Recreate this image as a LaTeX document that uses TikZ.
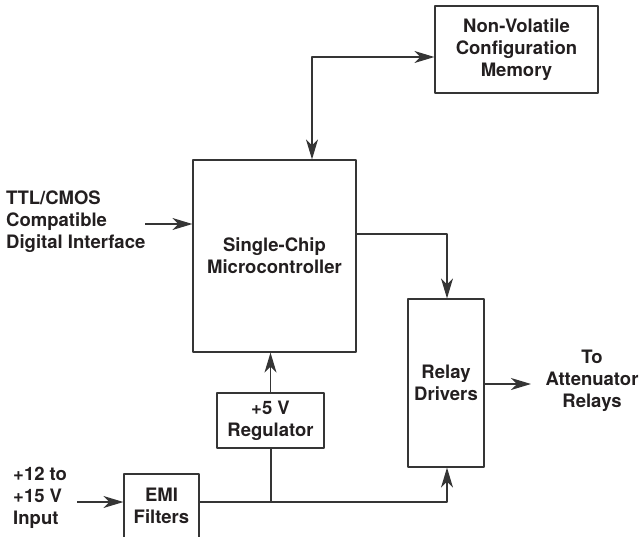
\documentclass[tikz,border=0pt]{standalone}
\usepackage{fontspec}
\setmainfont{TeX Gyre Heros}
\usetikzlibrary{arrows,arrows.meta,positioning,calc}
\definecolor{inkgray}{HTML}{353535}
\definecolor{txtblack}{HTML}{231F20}
\tikzset{
  blockbox/.style={draw=inkgray, line width=1.2pt, align=center, inner sep=0pt,
    font=\bfseries\fontsize{18.5}{22}\selectfont, text=txtblack},
  sidelabel/.style={inner sep=0pt, font=\bfseries\fontsize{18.5}{22}\selectfont, text=txtblack},
  wire/.style={draw=inkgray, line width=1.2pt}
}

\begin{document}
\begin{tikzpicture}[x=1pt, y=-1pt, line join=round, >={Stealth[length=20pt,width=12pt,inset=6pt]}]
\useasboundingbox (0,0) rectangle (640,536);
\node[blockbox, minimum width=163pt, minimum height=87pt]  (nvm)   at (516.5,49.5) {Non-Volatile\\Configuration\\Memory};
\node[blockbox, minimum width=163pt, minimum height=192pt] (mcu)   at (274.5,256)  {Single-Chip\\Microcontroller};
\node[blockbox, minimum width=76pt,  minimum height=168pt] (relay) at (446,383)    {Relay\\Drivers};
\node[blockbox, minimum width=107pt, minimum height=55pt]  (reg)   at (270.5,420.5) {+5 V\\Regulator};
\node[blockbox, minimum width=75pt,  minimum height=64pt]  (emi)   at (161.5,506)  {EMI\\Filters};
\node[sidelabel, align=left, anchor=west]  (ttl) at (6,222)   {TTL/CMOS\\Compatible\\Digital Interface};
\node[sidelabel, align=left, anchor=west]  (inp) at (13,498)  {+12 to\\+15 V\\Input};
\node[sidelabel, align=center]             (tgt) at (592,381) {To\\Attenuator\\Relays};
\coordinate (bend) at (312,57);
\coordinate (ttlin) at (145,224);
\coordinate (m2r) at (447,234);
\coordinate (out) at (531,384);
\coordinate (pin) at (77,502);
\coordinate (bus) at (271,502);
\draw[wire,<->] (bend |- mcu.north) -- (bend) -- (bend -| nvm.west);
\draw[wire,->] (ttlin) -- (ttlin -| mcu.west);
\draw[wire,->] (m2r -| mcu.east) -- (m2r) -- (m2r |- relay.north);
\draw[wire,->] (relay.east |- out) -- (out);
\draw[wire,->] (reg.north) -- (reg.north |- mcu.south);
\draw[wire,->] (pin) -- (pin -| emi.west);
\draw[wire] (emi.east |- bus) -- (bus) -- (bus |- reg.south);
\draw[wire,->] (bus) -- (bus -| m2r) -- (m2r |- relay.south);
\end{tikzpicture}
\end{document}
